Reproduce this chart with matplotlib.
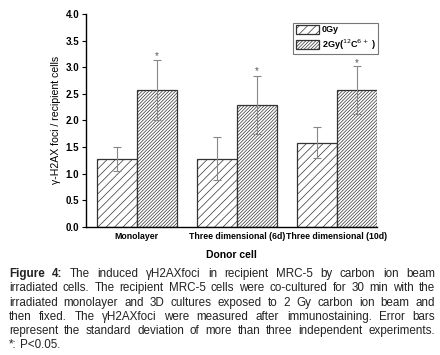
import numpy as np
import matplotlib.pyplot as plt

plt.rcParams['font.family'] = ['Liberation Sans', 'DejaVu Sans']

# data
groups = ['Monolayer', 'Three dimensional (6d)', 'Three dimensional (10d)']
dose_0gy = [1.27, 1.28, 1.58]
err_0gy = [0.22, 0.40, 0.29]
dose_2gy = [2.57, 2.29, 2.57]
err_2gy = [0.56, 0.55, 0.45]
star_y = [3.20, 2.92, 3.08]

fig = plt.figure(figsize=(4.4, 3.55), dpi=100)
ax = fig.add_axes([86 / 440, 1 - 226.7 / 355, 291 / 440, 212.7 / 355])

x = np.arange(len(groups))
w = 0.4
plt.rcParams['hatch.linewidth'] = 0.5
plt.rcParams['hatch.color'] = '#707070'
ax.bar(x - w / 2, dose_0gy, w, color='white', edgecolor='#333333',
       hatch='////', linewidth=0.9, label='0Gy')
plt.rcParams['hatch.color'] = '#8a8a8a'
ax.bar(x + w / 2, dose_2gy, w, color='white', edgecolor='#333333',
       hatch='/' * 10, linewidth=0.9, label='2Gy($^{12}$C$^{6+}$ )')
ax.errorbar(x - w / 2, dose_0gy, yerr=err_0gy, fmt='none', ecolor='#888888',
            elinewidth=0.8, capsize=3, capthick=0.8)
ax.errorbar(x + w / 2, dose_2gy, yerr=err_2gy, fmt='none', ecolor='#888888',
            elinewidth=0.8, capsize=3, capthick=0.8)
for xi, sy in zip(x + w / 2, star_y):
    ax.text(xi, sy, '*', ha='center', va='center', fontsize=7, color='#555555')

ax.set_xlim(-0.507, 2.4)
ax.set_ylim(0, 4.0)
ax.set_yticks(np.arange(0, 4.01, 0.5))
ax.set_yticklabels(['%.1f' % v for v in np.arange(0, 4.01, 0.5)],
                   fontsize=7, fontweight='bold')
ax.set_xticks(x)
ax.set_xticklabels(groups, fontsize=6.3, fontweight='bold')
ax.tick_params(axis='x', length=0, pad=4)
ax.tick_params(axis='y', length=3, width=0.8, pad=2)
for s in ['top', 'right']:
    ax.spines[s].set_visible(False)
for s in ['left', 'bottom']:
    ax.spines[s].set_linewidth(1.0)
ax.set_xlabel('Donor cell', fontsize=7.5, fontweight='bold', labelpad=6)
ax.set_ylabel('γ-H2AX foci / recipient cells', fontsize=7.6, labelpad=3)

leg = ax.legend(loc='upper right', bbox_to_anchor=(1.02, 0.98),
                prop={'weight': 'bold', 'size': 6.5}, frameon=True, fancybox=False,
                edgecolor='#555555', handlelength=2.6, handleheight=1.1,
                borderpad=0.25, labelspacing=0.3, handletextpad=0.3)
leg.get_frame().set_linewidth(0.8)

# caption, justified line by line
caption = [
    'Figure 4: The induced γH2AXfoci in recipient MRC-5 by carbon ion beam',
    'irradiated cells. The recipient MRC-5 cells were co-cultured for 30 min with the',
    'irradiated monolayer and 3D cultures exposed to 2 Gy carbon ion beam and',
    'then fixed. The γH2AXfoci were measured after immunostaining. Error bars',
    'represent the standard deviation of more than three independent experiments.',
    '*: P<0.05.',
]
left, right = 9, 435
y0, dy = 274, 14.3
fs = 8.4
fig.canvas.draw()
r = fig.canvas.get_renderer()
for i, line in enumerate(caption):
    words = line.split(' ')
    yp = 1 - (y0 + i * dy) / 355
    texts = []
    for j, wd in enumerate(words):
        bold = (i == 0 and j < 2)
        t = fig.text(0, yp, wd, fontsize=fs, va='center', color='#222222',
                     fontweight='bold' if bold else 'normal')
        texts.append(t)
    widths = [t.get_window_extent(r).width for t in texts]
    last = i == len(caption) - 1
    if last or len(words) < 2:
        gap = fs * 0.28 * 100 / 72
    else:
        gap = (right - left - sum(widths)) / (len(words) - 1)
    xp = left
    for t, wdt in zip(texts, widths):
        t.set_x(xp / 440)
        xp += wdt + gap

fig.savefig('out.png', dpi=100)
